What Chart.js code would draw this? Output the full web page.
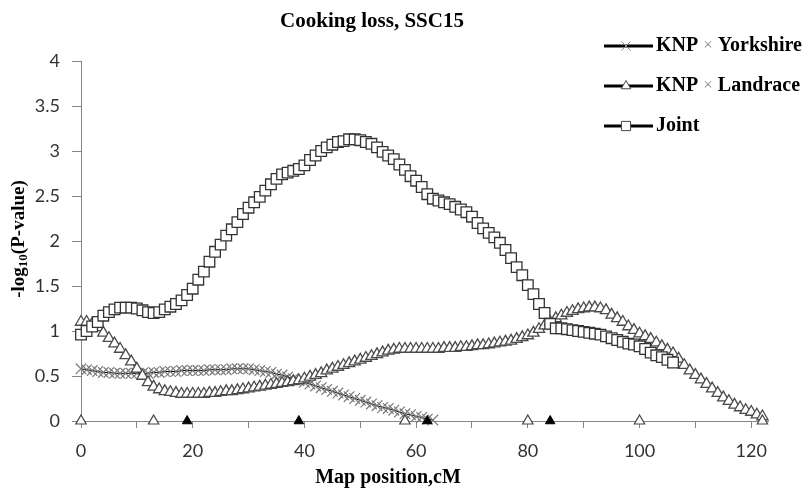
<!DOCTYPE html>
<html>
<head>
<meta charset="utf-8">
<script src="https://cdn.jsdelivr.net/npm/chart.js@4/dist/chart.umd.min.js"></script>
<style>
  body { margin: 0; background: #fff; }
</style>
</head>
<body>
<canvas id="grafico" width="809" height="488"></canvas>
<script>
// Textos do grafico
var titulo = 'Cooking loss, SSC15';
var tituloX = 'Map position,cM';
var nomes = ['KNP × Yorkshire', 'KNP × Landrace', 'Joint'];

// Valores -log10(P) a cada 1 cM, a partir de 0 cM
var yorkshire = [0.58, 0.57, 0.56, 0.55, 0.54, 0.54, 0.53, 0.53, 0.53, 0.53,
    0.53, 0.53, 0.53, 0.54, 0.54, 0.55, 0.55, 0.55, 0.56, 0.56,
    0.56, 0.56, 0.56, 0.57, 0.57, 0.57, 0.57, 0.58, 0.58, 0.58,
    0.58, 0.57, 0.56, 0.55, 0.54, 0.52, 0.51, 0.49, 0.47, 0.45,
    0.43, 0.41, 0.39, 0.37, 0.35, 0.33, 0.31, 0.29, 0.27, 0.25,
    0.23, 0.21, 0.19, 0.17, 0.15, 0.14, 0.12, 0.10, 0.08, 0.07,
    0.05, 0.04, 0.02, 0.01];

var landrace = [1.10, 1.10, 1.08, 1.04, 0.98, 0.92, 0.86, 0.80, 0.73, 0.66,
    0.58, 0.50, 0.43, 0.38, 0.35, 0.33, 0.32, 0.31, 0.30, 0.30,
    0.30, 0.30, 0.30, 0.31, 0.31, 0.32, 0.33, 0.33, 0.34, 0.35,
    0.36, 0.37, 0.38, 0.39, 0.40, 0.41, 0.42, 0.43, 0.44, 0.45,
    0.47, 0.49, 0.51, 0.53, 0.56, 0.58, 0.60, 0.62, 0.64, 0.66,
    0.68, 0.70, 0.72, 0.74, 0.76, 0.78, 0.79, 0.80, 0.80, 0.80,
    0.80, 0.80, 0.80, 0.80, 0.80, 0.81, 0.81, 0.81, 0.82, 0.82,
    0.83, 0.84, 0.84, 0.85, 0.86, 0.87, 0.88, 0.89, 0.91, 0.93,
    0.95, 0.98, 1.02, 1.06, 1.10, 1.14, 1.17, 1.20, 1.22, 1.24,
    1.25, 1.26, 1.26, 1.25, 1.23, 1.18, 1.14, 1.10, 1.05, 1.01,
    0.97, 0.94, 0.91, 0.87, 0.83, 0.79, 0.75, 0.69, 0.62, 0.56,
    0.51, 0.46, 0.41, 0.36, 0.31, 0.26, 0.22, 0.18, 0.15, 0.12,
    0.10, 0.07, 0.05];

var joint = [0.96, 1.00, 1.05, 1.10, 1.17, 1.21, 1.24, 1.26, 1.26, 1.26,
    1.25, 1.23, 1.21, 1.20, 1.21, 1.24, 1.27, 1.30, 1.34, 1.40,
    1.47, 1.57, 1.66, 1.77, 1.88, 1.96, 2.06, 2.13, 2.21, 2.30,
    2.37, 2.43, 2.49, 2.56, 2.63, 2.69, 2.74, 2.76, 2.78, 2.80,
    2.84, 2.90, 2.95, 3.00, 3.04, 3.07, 3.10, 3.11, 3.13, 3.13,
    3.12, 3.10, 3.08, 3.04, 2.99, 2.95, 2.91, 2.85, 2.79, 2.72,
    2.67, 2.60, 2.52, 2.47, 2.45, 2.43, 2.41, 2.38, 2.35, 2.32,
    2.27, 2.20, 2.14, 2.09, 2.04, 1.98, 1.90, 1.81, 1.71, 1.62,
    1.51, 1.41, 1.30, 1.20, 1.08, 1.03, 1.03, 1.02, 1.01, 1.00,
    0.99, 0.98, 0.97, 0.96, 0.94, 0.92, 0.90, 0.88, 0.86, 0.85,
    0.83, 0.80, 0.76, 0.73, 0.71, 0.68, 0.65];

// Marcadores sobre o eixo (cM)
var marcadoresAbertos = [0, 13, 58, 80, 100, 122];
var marcadoresCheios = [19, 39, 62, 84];

function pontos(valores) {
    return valores.map(function(v, i) { return { x: i, y: v }; });
}

// Plugin que escreve titulo, titulos dos eixos e legenda
var textos = {
    id: 'textos',
    afterDraw: function(chart) {
        var ctx = chart.ctx;
        ctx.save();
        ctx.fillStyle = '#000';
        ctx.textBaseline = 'middle';

        // titulo e eixo x
        ctx.font = 'bold 21px "Liberation Serif"';
        ctx.textAlign = 'center';
        ctx.fillText(titulo, 372, 22);
        ctx.font = 'bold 20px "Liberation Serif"';
        ctx.fillText(tituloX, 388, 478);

        // eixo y com subscrito
        ctx.translate(19, 239);
        ctx.rotate(-Math.PI / 2);
        ctx.textAlign = 'left';
        var f1 = 'bold 19px "Liberation Serif"';
        var f2 = 'bold 13px "Liberation Serif"';
        ctx.font = f1;
        var a = ctx.measureText('-log').width;
        var c = ctx.measureText('(P-value)').width;
        ctx.font = f2;
        var b = ctx.measureText('10').width;
        var x = -(a + b + c) / 2;
        ctx.font = f1;
        ctx.fillText('-log', x, 0);
        ctx.font = f2;
        ctx.fillText('10', x + a, 5);
        ctx.font = f1;
        ctx.fillText('(P-value)', x + a + b, 0);
        ctx.setTransform(1, 0, 0, 1, 0, 0);

        // legenda
        var ys = [46, 86, 126];
        var estilos = ['crossRot', 'triangle', 'rect'];
        for (var i = 0; i < 3; i++) {
            ctx.strokeStyle = '#000';
            ctx.lineWidth = 3;
            ctx.beginPath();
            ctx.moveTo(604, ys[i]);
            ctx.lineTo(653, ys[i]);
            ctx.stroke();
            ctx.fillStyle = '#fff';
            ctx.strokeStyle = i == 0 ? '#8a8a8a' : '#444';
            ctx.lineWidth = 1;
            Chart.helpers.drawPoint(ctx, { pointStyle: estilos[i], radius: i == 1 ? 5.5 : 6.5, rotation: 0, borderWidth: 1 }, 626, ys[i]);

            ctx.fillStyle = '#000';
            ctx.font = 'bold 20px "Liberation Serif"';
            var partes = nomes[i].split('×');
            if (partes.length == 2) {
                ctx.fillText(partes[0], 656, ys[i]);
                var w = ctx.measureText(partes[0]).width;
                ctx.font = '17px "Liberation Serif"';
                ctx.fillStyle = '#888';
                ctx.fillText('×', 656 + w, ys[i]);
                var w2 = ctx.measureText('×').width;
                ctx.font = 'bold 20px "Liberation Serif"';
                ctx.fillStyle = '#000';
                ctx.fillText(partes[1], 656 + w + w2, ys[i]);
            } else {
                ctx.fillText(nomes[i], 656, ys[i]);
            }
        }
        ctx.restore();
    }
};

var corEixo = '#868686';
var fonteTicks = { family: 'Lato', size: 18 };

new Chart('grafico', {
    type: 'scatter',
    data: {
        datasets: [{
            label: nomes[2],
            data: pontos(joint),
            showLine: true,
            borderColor: '#000',
            borderWidth: 1.5,
            pointStyle: 'rect',
            pointRadius: 7.5,
            pointBackgroundColor: '#fff',
            pointBorderColor: '#333',
            pointBorderWidth: 1.3,
            clip: false,
            order: 1
        }, {
            label: nomes[1],
            data: pontos(landrace),
            showLine: true,
            borderColor: '#000',
            borderWidth: 1.5,
            pointStyle: 'triangle',
            pointRadius: 6.5,
            pointBackgroundColor: '#fff',
            pointBorderColor: '#4a4a4a',
            pointBorderWidth: 1.3,
            clip: false,
            order: 2
        }, {
            label: nomes[0],
            data: pontos(yorkshire),
            showLine: true,
            borderColor: '#000',
            borderWidth: 1,
            pointStyle: 'crossRot',
            pointRadius: 7.5,
            pointBorderColor: '#7a7a7a',
            pointBorderWidth: 1.2,
            clip: false,
            order: 3
        }, {
            label: 'abertos',
            data: marcadoresAbertos.map(function(p) { return { x: p, y: 0 }; }),
            pointStyle: 'triangle',
            pointRadius: 6,
            pointBackgroundColor: '#fff',
            pointBorderColor: '#444',
            pointBorderWidth: 1.2,
            clip: false,
            order: 0
        }, {
            label: 'cheios',
            data: marcadoresCheios.map(function(p) { return { x: p, y: 0 }; }),
            pointStyle: 'triangle',
            pointRadius: 5.5,
            pointBackgroundColor: '#000',
            pointBorderColor: '#000',
            pointBorderWidth: 1,
            clip: false,
            order: 0
        }]
    },
    options: {
        responsive: false,
        animation: false,
        events: [],
        layout: { padding: { top: 61, right: 41, left: 0, bottom: 0 } },
        plugins: {
            legend: { display: false },
            title: { display: false },
            tooltip: { enabled: false }
        },
        scales: {
            x: {
                type: 'linear',
                min: 0,
                max: 123,
                afterFit: function(s) { s.height = 67; },
                ticks: {
                    stepSize: 10,
                    includeBounds: false,
                    autoSkip: false,
                    maxRotation: 0,
                    padding: 12,
                    color: '#333',
                    font: fonteTicks,
                    callback: function(v) { return Math.round(v) % 20 === 0 ? Math.round(v) : ''; }
                },
                grid: { drawOnChartArea: false, tickLength: 7, color: corEixo },
                border: { color: corEixo }
            },
            y: {
                min: 0,
                max: 4,
                afterFit: function(s) { s.width = 81; },
                ticks: {
                    stepSize: 0.5,
                    padding: 12,
                    color: '#333',
                    font: fonteTicks,
                    callback: function(v) { return String(Math.round(v * 10) / 10); }
                },
                grid: { drawOnChartArea: false, tickLength: 9, color: corEixo },
                border: { color: corEixo }
            }
        }
    },
    plugins: [textos]
});
</script>
</body>
</html>
